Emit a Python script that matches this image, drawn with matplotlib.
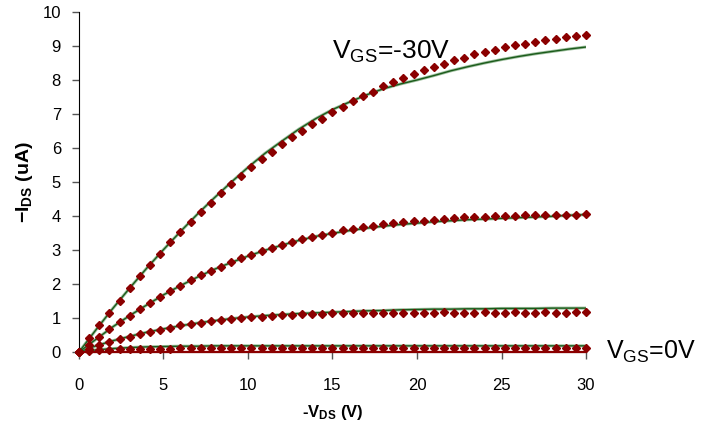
import matplotlib
matplotlib.use("Agg")
import matplotlib.pyplot as plt

plt.rcParams['font.family'] = ['Liberation Sans', 'DejaVu Sans']
plt.rcParams['mathtext.fontset'] = 'custom'
plt.rcParams['mathtext.rm'] = 'Liberation Sans'
plt.rcParams['mathtext.it'] = 'Liberation Sans'
plt.rcParams['mathtext.bf'] = 'Liberation Sans:bold'

# measured points (-V_DS, volts)
vds = [round(0.6 * i, 1) for i in range(51)]

ids_vgs30 = [0, 0.40, 0.78, 1.16, 1.51, 1.88, 2.23, 2.56, 2.89, 3.23, 3.53, 3.83, 4.12, 4.39,
             4.68, 4.93, 5.19, 5.44, 5.68, 5.87, 6.11, 6.31, 6.51, 6.70, 6.86, 7.05, 7.20,
             7.38, 7.53, 7.66, 7.81, 7.93, 8.07, 8.18, 8.29, 8.39, 8.48, 8.58, 8.66, 8.75,
             8.81, 8.89, 8.97, 9.02, 9.07, 9.12, 9.17, 9.22, 9.26, 9.29, 9.32]
ids_vgs2 = [0, 0.22, 0.44, 0.68, 0.88, 1.06, 1.26, 1.44, 1.63, 1.79, 1.95, 2.11, 2.25, 2.38,
            2.51, 2.64, 2.75, 2.84, 2.97, 3.05, 3.15, 3.23, 3.31, 3.38, 3.45, 3.50, 3.58,
            3.62, 3.68, 3.72, 3.76, 3.79, 3.83, 3.86, 3.85, 3.88, 3.91, 3.94, 3.96, 3.96,
            3.97, 3.99, 3.99, 4.01, 4.02, 4.02, 4.02, 4.02, 4.02, 4.02, 4.05]
ids_vgs3 = [0, 0.10, 0.21, 0.29, 0.37, 0.44, 0.54, 0.60, 0.65, 0.72, 0.79, 0.83, 0.86, 0.91,
            0.93, 0.96, 1.00, 1.02, 1.04, 1.07, 1.09, 1.09, 1.11, 1.11, 1.11, 1.14, 1.14,
            1.14, 1.14, 1.14, 1.14, 1.14, 1.16, 1.16, 1.16, 1.16, 1.17, 1.16, 1.16, 1.16,
            1.17, 1.16, 1.16, 1.17, 1.16, 1.16, 1.17, 1.16, 1.16, 1.17, 1.17]
ids_vgs0 = [0, 0.03, 0.06, 0.07, 0.08, 0.08, 0.09, 0.09, 0.10, 0.10, 0.11, 0.11, 0.11, 0.12,
            0.12, 0.12, 0.12, 0.12, 0.12, 0.12, 0.12, 0.12, 0.12, 0.12, 0.12, 0.12, 0.12,
            0.12, 0.12, 0.12, 0.12, 0.12, 0.12, 0.12, 0.12, 0.12, 0.12, 0.12, 0.12, 0.12,
            0.12, 0.12, 0.12, 0.12, 0.12, 0.12, 0.12, 0.12, 0.12, 0.12, 0.12]
ids_zero = [0.0] * 51

# fitted model curves
fit_vds = list(range(31))
fit_vgs30 = [0, 0.65, 1.28, 1.88, 2.46, 3.01, 3.54, 4.05, 4.53, 4.99, 5.43, 5.84, 6.20, 6.55,
             6.86, 7.13, 7.35, 7.56, 7.74, 7.88, 8.00, 8.13, 8.27, 8.39, 8.50, 8.60, 8.69,
             8.77, 8.84, 8.91, 8.97]
fit_vgs2 = [0, 0.37, 0.74, 1.07, 1.38, 1.68, 1.95, 2.20, 2.43, 2.63, 2.82, 2.99, 3.14, 3.28,
            3.40, 3.49, 3.57, 3.64, 3.70, 3.75, 3.79, 3.83, 3.86, 3.89, 3.91, 3.93, 3.95,
            3.97, 3.99, 4.02, 4.04]
fit_vgs3 = [0, 0.18, 0.33, 0.46, 0.58, 0.68, 0.77, 0.85, 0.92, 0.98, 1.03, 1.07, 1.10, 1.13,
            1.15, 1.17, 1.19, 1.21, 1.22, 1.24, 1.25, 1.26, 1.26, 1.27, 1.27, 1.28, 1.28,
            1.28, 1.29, 1.29, 1.29]
fit_vgs0 = [0, 0.06, 0.10, 0.13, 0.15, 0.16, 0.17, 0.17, 0.18, 0.18, 0.18, 0.18, 0.18, 0.18,
            0.18, 0.18, 0.18, 0.18, 0.18, 0.18, 0.18, 0.18, 0.18, 0.18, 0.18, 0.18, 0.18,
            0.18, 0.18, 0.18, 0.18]

x_ticks = [0, 5, 10, 15, 20, 25, 30]
y_ticks = [0, 1, 2, 3, 4, 5, 6, 7, 8, 9, 10]

fig = plt.figure(figsize=(7.04, 4.25), dpi=100)
ax = fig.add_axes([0.1122, 0.1718, 0.7202, 0.80])

green = '#1A5A1A'
red = '#8B0000'

for fy in (fit_vgs30, fit_vgs2, fit_vgs3, fit_vgs0):
    ax.plot(fit_vds, fy, color='#9DBF9D', lw=2.2, zorder=2, solid_capstyle='butt')
    ax.plot(fit_vds, fy, color=green, lw=1.0, zorder=3)

ax.plot(vds, ids_zero, color=red, lw=1.6, zorder=3, clip_on=False)

for my in (ids_vgs30, ids_vgs2, ids_vgs3, ids_vgs0):
    ax.plot(vds, my, linestyle='none', marker='D', markersize=4.3, color=red,
            markeredgecolor=red, zorder=4, clip_on=False)

ax.set_xlim(0, 30)
ax.set_ylim(0, 10)
ax.set_xticks(x_ticks)
ax.set_yticks(y_ticks)

for s in ('top', 'right'):
    ax.spines[s].set_visible(False)
ax.spines['left'].set_color('black')
ax.spines['bottom'].set_color('#555555')

ax.tick_params(axis='y', direction='out', length=5, width=1, labelsize=12, pad=8,
               color='#555555')
ax.tick_params(axis='x', direction='out', length=5, width=1, labelsize=12, pad=14,
               color='#555555')

ax.set_xlabel(r'-V$_{\mathbf{DS}}$ (V)', fontsize=12, fontweight='bold', labelpad=7)
ax.set_ylabel(r'$\mathbf{-}$I$_{\mathbf{DS}}$ (uA)', fontsize=14, fontweight='bold',
              labelpad=5)

ax.text(14.95, 8.63, r'V$_{\mathregular{GS}}$=-30V', fontsize=19, va='baseline',
        ha='left', color='black')
ax.text(31.2, -0.19, r'V$_{\mathregular{GS}}$=0V', fontsize=18, va='baseline',
        ha='left', color='black', clip_on=False)

fig.savefig('out.png', dpi=100)
